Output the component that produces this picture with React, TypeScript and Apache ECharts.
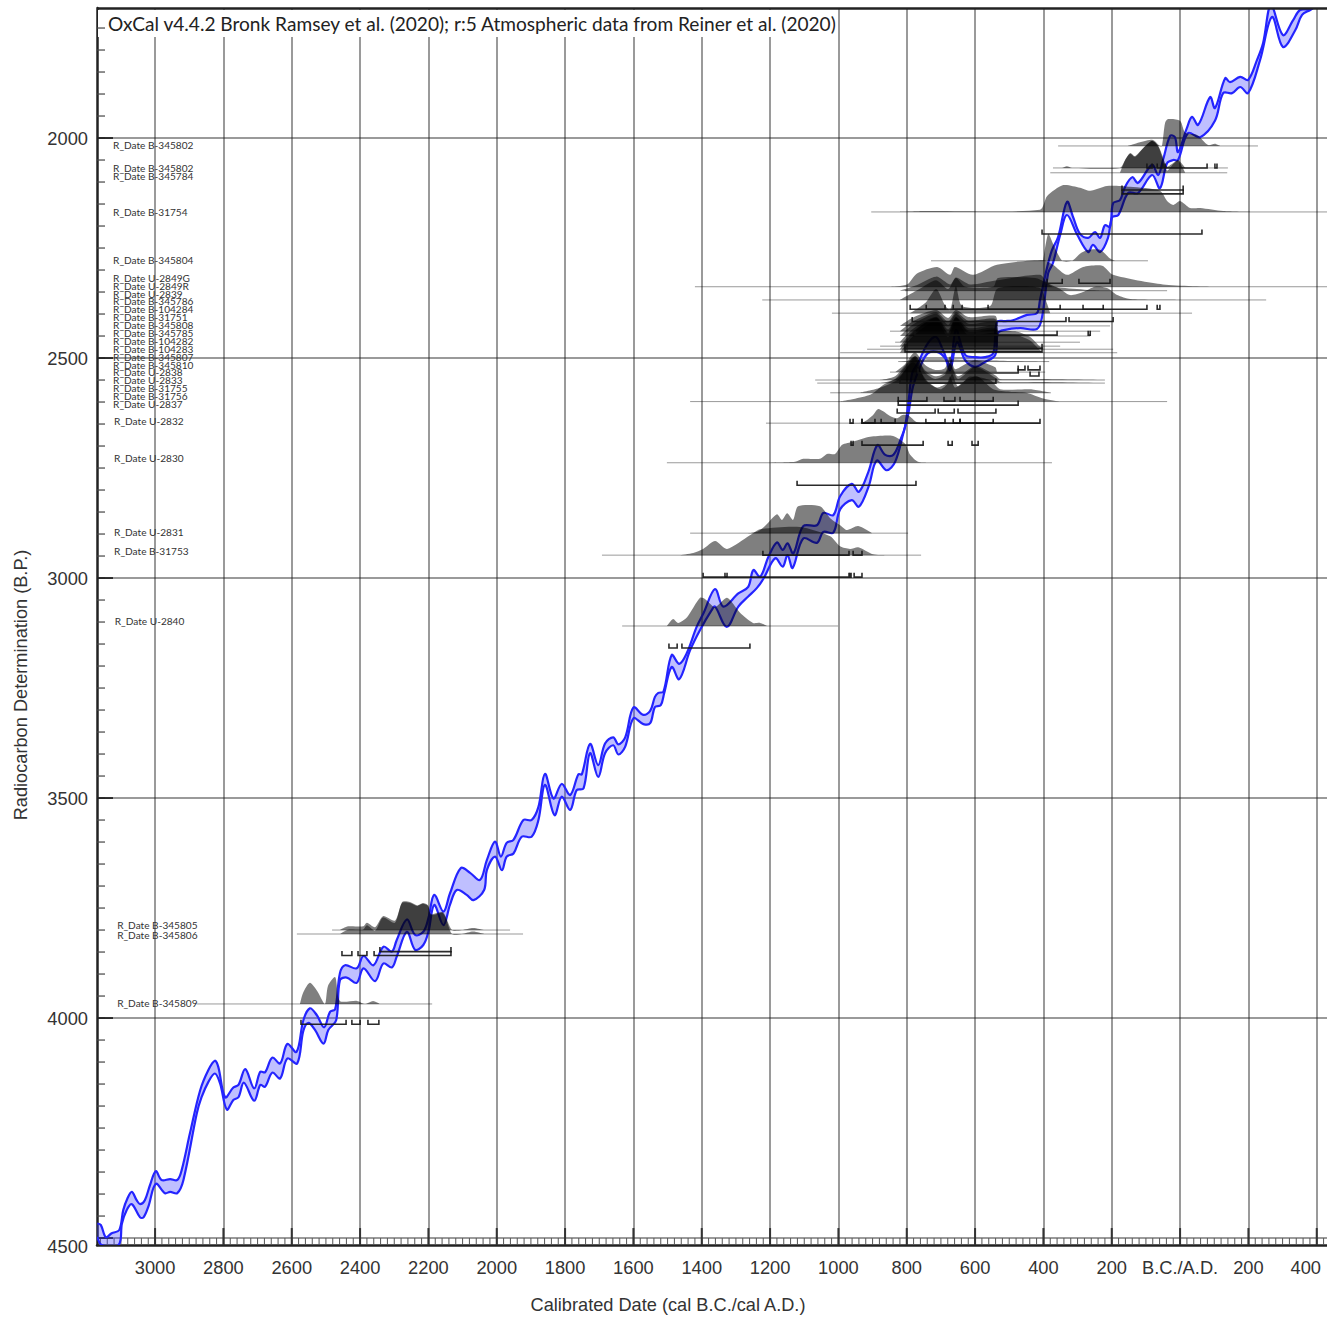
import React, { useEffect, useRef } from "react";
import * as echarts from "echarts";

const X_TICKS = [-3000, -2800, -2600, -2400, -2200, -2000, -1800, -1600, -1400, -1200, -1000, -800, -600, -400, -200, 0, 200, 400];
const Y_TICKS = [2000, 2500, 3000, 3500, 4000, 4500];
const TITLE = "OxCal v4.4.2 Bronk Ramsey et al. (2020); r:5 Atmospheric data from Reiner et al. (2020)";
const X_NAME = "Calibrated Date (cal B.C./cal A.D.)";
const Y_NAME = "Radiocarbon Determination (B.P.)";

// Calibration curve: [cal year (negative = B.C.), radiocarbon age B.P.]
const curveTop: number[][] = [
  [-3169,4467],[-3159,4470],[-3144,4498],[-3127,4489],[-3105,4482],[-3093,4436],[-3081,4410],[-3068,4395],[-3054,4414],[-3044,4423],[-3030,4414],[-3015,4380],[-2998,4348],[-2981,4368],[-2956,4366],[-2935,4368],[-2922,4345],[-2898,4262],[-2868,4164],[-2844,4118],[-2825,4097],[-2815,4111],[-2795,4180],[-2771,4158],[-2756,4152],[-2736,4116],[-2710,4160],[-2692,4122],[-2678,4123],[-2657,4090],[-2634,4103],[-2613,4059],[-2586,4077],[-2566,4005],[-2547,3978],[-2527,3993],[-2505,4021],[-2488,3986],[-2473,3980],[-2459,3898],[-2444,3880],[-2410,3887],[-2390,3859],[-2361,3880],[-2332,3838],[-2307,3849],[-2293,3823],[-2263,3776],[-2239,3811],[-2215,3804],[-2200,3773],[-2183,3720],[-2156,3758],[-2137,3717],[-2105,3659],[-2078,3670],[-2049,3686],[-2029,3641],[-2005,3599],[-1988,3633],[-1971,3602],[-1951,3595],[-1922,3550],[-1898,3550],[-1878,3520],[-1859,3445],[-1834,3501],[-1810,3468],[-1785,3493],[-1761,3446],[-1751,3446],[-1727,3377],[-1703,3425],[-1683,3376],[-1659,3362],[-1644,3378],[-1624,3362],[-1600,3294],[-1571,3311],[-1551,3302],[-1537,3270],[-1527,3261],[-1512,3258],[-1488,3175],[-1466,3195],[-1444,3171],[-1415,3111],[-1395,3080],[-1361,3025],[-1337,3065],[-1293,3035],[-1264,3020],[-1249,2982],[-1229,2997],[-1205,2952],[-1180,2919],[-1163,2936],[-1149,2921],[-1132,2944],[-1103,2882],[-1063,2880],[-1044,2852],[-1015,2857],[-995,2814],[-961,2786],[-940,2804],[-912,2758],[-886,2698],[-863,2720],[-839,2720],[-815,2679],[-805,2656],[-795,2600],[-784,2534],[-767,2511],[-738,2466],[-714,2452],[-694,2482],[-673,2516],[-656,2436],[-629,2493],[-600,2498],[-571,2498],[-547,2489],[-536,2418],[-512,2416],[-489,2414],[-448,2402],[-419,2398],[-410,2368],[-389,2293],[-375,2255],[-357,2225],[-331,2145],[-313,2180],[-293,2218],[-269,2227],[-249,2214],[-234,2227],[-220,2198],[-205,2202],[-196,2148],[-176,2141],[-161,2111],[-140,2089],[-123,2102],[-82,2061],[-64,2084],[-50,2050],[-29,1995],[-15,1998],[-6,2032],[20,1977],[35,1952],[53,1970],[88,1907],[102,1932],[132,1864],[146,1873],[176,1861],[199,1868],[225,1823],[243,1784],[266,1698],[301,1766],[331,1732],[351,1709],[381,1707],[439,1675],
];
const curveBottom: number[][] = [
  [-3169,4497],[-3156,4516],[-3107,4516],[-3097,4467],[-3083,4436],[-3068,4423],[-3044,4453],[-3034,4453],[-3020,4429],[-2998,4377],[-2971,4398],[-2956,4395],[-2935,4398],[-2917,4368],[-2878,4217],[-2864,4180],[-2844,4145],[-2825,4126],[-2810,4148],[-2790,4208],[-2771,4186],[-2756,4180],[-2740,4147],[-2710,4188],[-2692,4152],[-2678,4156],[-2657,4124],[-2634,4137],[-2613,4092],[-2584,4103],[-2566,4029],[-2551,4011],[-2532,4027],[-2507,4058],[-2493,4027],[-2470,4005],[-2459,3914],[-2439,3908],[-2410,3920],[-2390,3887],[-2356,3916],[-2332,3876],[-2307,3885],[-2293,3861],[-2263,3804],[-2239,3845],[-2215,3834],[-2200,3804],[-2183,3743],[-2156,3789],[-2137,3743],[-2117,3709],[-2088,3720],[-2068,3732],[-2037,3709],[-2029,3664],[-2005,3633],[-1985,3664],[-1971,3633],[-1951,3626],[-1927,3588],[-1898,3588],[-1878,3550],[-1859,3470],[-1831,3539],[-1810,3497],[-1785,3527],[-1766,3482],[-1746,3478],[-1727,3398],[-1703,3452],[-1683,3398],[-1659,3380],[-1644,3401],[-1624,3383],[-1600,3319],[-1571,3332],[-1551,3330],[-1537,3293],[-1520,3289],[-1510,3262],[-1488,3202],[-1466,3230],[-1434,3164],[-1405,3118],[-1371,3073],[-1361,3065],[-1327,3111],[-1293,3065],[-1264,3042],[-1239,3023],[-1219,3001],[-1185,2955],[-1163,2974],[-1149,2948],[-1134,2977],[-1103,2910],[-1063,2920],[-1044,2895],[-1015,2897],[-995,2844],[-961,2823],[-940,2838],[-912,2793],[-888,2733],[-859,2755],[-834,2736],[-810,2671],[-795,2625],[-782,2566],[-761,2520],[-738,2489],[-711,2486],[-688,2500],[-673,2527],[-653,2464],[-629,2505],[-600,2520],[-571,2509],[-541,2493],[-533,2443],[-512,2436],[-468,2432],[-419,2434],[-404,2407],[-386,2307],[-372,2284],[-351,2220],[-331,2175],[-301,2220],[-269,2259],[-255,2243],[-234,2259],[-211,2227],[-199,2180],[-181,2175],[-152,2125],[-123,2125],[-82,2084],[-59,2114],[-38,2057],[-20,2050],[-6,2050],[23,1989],[59,1998],[102,1961],[126,1898],[152,1898],[176,1884],[199,1898],[234,1823],[269,1725],[301,1793],[337,1755],[357,1720],[381,1709],[439,1680],
];

// Shared probability shapes: [cal year, height in radiocarbon years]
const shapeLeft = [[-820,0],[-784,18],[-714,36],[-679,18],[-656,36],[-620,20],[-541,23],[-533,0]];
const shapeFull = [[-820,0],[-784,18],[-714,36],[-679,18],[-656,36],[-620,20],[-541,23],[-533,21],[-477,20],[-439,14],[-410,3],[-401,0]];
const shapePeaks = [[-834,0],[-805,18],[-776,45],[-746,16],[-717,5],[-688,9],[-673,36],[-659,7],[-629,18],[-600,27],[-541,11],[-536,0]];
const shapePeaksWide = [[-878,0],[-834,7],[-776,45],[-746,18],[-717,7],[-688,14],[-673,32],[-650,7],[-600,27],[-541,9],[-527,2],[-410,2],[-220,0]];
const shapeLate = [[-2459,0],[-2435,9],[-2391,9],[-2380,18],[-2356,7],[-2333,34],[-2298,23],[-2277,66],[-2254,66],[-2233,59],[-2216,64],[-2201,59],[-2192,39],[-2157,43],[-2131,0],[-2102,0],[-2069,5],[-2037,0]];

const dateNames = ["R_Date B-345802","R_Date B-345802","R_Date B-345784","R_Date B-31754","R_Date B-345804","R_Date U-2849G","R_Date U-2849R","R_Date U-2839","R_Date B-345786","R_Date B-104284","R_Date B-31751","R_Date B-345808","R_Date B-345785","R_Date B-104282","R_Date B-104283","R_Date B-345807","R_Date B-345810","R_Date U-2838","R_Date U-2833","R_Date B-31755","R_Date B-31756","R_Date U-2837","R_Date U-2832","R_Date U-2830","R_Date U-2831","R_Date B-31753","R_Date U-2840","R_Date B-345805","R_Date B-345806","R_Date B-345809"];
const labelAges = [2016,2068,2086,2168,2277,2318,2336,2355,2370,2389,2407,2425,2443,2461,2480,2498,2516,2532,2550,2568,2586,2605,2643,2727,2895,2939,3098,3789,3811,3966];
const labelYears = [-3123,-3123,-3123,-3123,-3123,-3123,-3123,-3123,-3123,-3123,-3123,-3123,-3123,-3123,-3123,-3123,-3123,-3123,-3123,-3123,-3123,-3123,-3120,-3120,-3120,-3120,-3118,-3111,-3111,-3111];
const baseAges = [2018,2068,2079,2168,2279,2338,2347,2368,2398,2427,2439,2450,2464,2473,2480,2488,2508,2532,2550,2557,2579,2599,2648,2738,2898,2948,3109,3800,3809,3968];
const lineStarts = [-357,-372,-380,-904,-729,-1420,-805,-1223,-1019,-805,-849,-805,-834,-878,-916,-995,-825,-849,-1068,-1062,-1024,-1434,-1212,-1502,-1434,-1692,-1633,-2482,-2585,-2877];
const lineEnds = [228,140,138,430,-94,430,-38,252,35,-205,-234,-263,-293,-351,-196,-184,-383,-395,-220,-220,-378,-38,-410,-375,-796,-758,-1001,-1961,-1923,-2189];
const profiles: number[][][] = [
  [[-152,0],[-82,14],[-59,0],[-53,0],[-44,52],[-35,61],[0,57],[15,30],[50,25],[82,2],[102,5],[117,0]],
  [[-345,0],[-331,4],[-316,0],[-176,0],[-161,18],[-146,34],[-132,27],[-108,45],[-82,61],[-64,50],[-50,25],[-38,3],[-20,11],[-6,18],[15,0]],
  [[-176,0],[-161,28],[-146,43],[-132,36],[-108,56],[-82,73],[-64,60],[-50,30],[-38,5],[-20,20],[-6,28],[15,0]],
  [[-820,0],[-746,2],[-410,5],[-389,36],[-342,61],[-293,55],[-263,48],[-214,59],[-146,57],[-59,48],[-38,25],[-20,16],[0,25],[29,9],[59,9],[126,2],[205,0]],
  [[-401,0],[-386,61],[-372,39],[-345,0],[-316,0],[-293,16],[-269,25],[-234,25],[-205,5],[-190,0]],
  [[-849,0],[-799,5],[-770,30],[-711,45],[-673,27],[-659,45],[-606,27],[-536,50],[-401,61],[-372,50],[-331,27],[-284,45],[-228,48],[-196,27],[-50,5],[97,0]],
  [[-820,0],[-776,11],[-714,32],[-673,14],[-656,30],[-614,14],[-541,23],[-410,36],[-389,18],[-372,9],[-234,0]],
  [[-820,0],[-767,23],[-714,45],[-679,25],[-656,50],[-629,30],[-547,30],[-533,50],[-424,50],[-395,41],[-351,25],[-322,11],[-284,18],[-249,30],[-214,27],[-184,11],[-146,2],[0,0]],
  [[-790,0],[-746,23],[-714,55],[-688,18],[-673,7],[-656,61],[-638,16],[-556,16],[-536,55],[-477,61],[-410,57],[-395,34],[-380,0]],
  shapeLeft, shapeLeft, shapeLeft, shapeLeft, shapeLeft, shapeFull, shapeFull,
  [[-825,0],[-790,2],[-732,5],[-527,2],[-383,0]],
  shapePeaks, shapePeaksWide, shapePeaksWide,
  [[-937,0],[-878,7],[-828,18],[-805,32],[-776,50],[-746,18],[-702,5],[-679,14],[-667,27],[-650,9],[-615,23],[-556,18],[-527,5],[-439,5],[-378,0]],
  [[-995,0],[-907,11],[-869,27],[-825,39],[-781,64],[-741,34],[-711,23],[-682,30],[-673,41],[-659,23],[-629,34],[-594,41],[-547,20],[-498,16],[-448,14],[-401,5],[-351,0]],
  [[-960,0],[-928,2],[-899,18],[-884,32],[-869,27],[-849,16],[-828,11],[-814,18],[-796,18],[-770,2],[-741,0]],
  [[-1200,0],[-1127,2],[-1103,9],[-1054,9],[-1033,20],[-1010,20],[-989,41],[-957,48],[-907,59],[-840,61],[-805,43],[-790,18],[-767,2],[-741,0]],
  [[-1264,0],[-1238,3],[-1215,16],[-1180,43],[-1165,30],[-1150,45],[-1133,30],[-1118,61],[-1054,61],[-1024,34],[-995,18],[-975,7],[-942,16],[-902,0]],
  [[-1464,0],[-1425,5],[-1396,14],[-1361,32],[-1326,14],[-1259,45],[-1229,59],[-1112,64],[-1024,43],[-995,20],[-966,14],[-942,18],[-899,2],[-863,0]],
  [[-1502,0],[-1484,16],[-1469,7],[-1443,20],[-1405,64],[-1390,61],[-1361,43],[-1326,64],[-1288,30],[-1250,7],[-1229,7],[-1209,0]],
  shapeLate, shapeLate,
  [[-2576,0],[-2567,25],[-2547,48],[-2526,30],[-2503,0],[-2494,41],[-2473,61],[-2459,7],[-2409,7],[-2385,0],[-2362,7],[-2342,0]],
];
const profileScales = [1,1,1,1,1,1,1,1,1,1,1.2,1.4,1.6,1.8,2,2,1,1,1.2,1.35,1.6,1.4,1,1,1,1,1,0.93,1.1,1];

// Highest-probability ranges: [from year, to year, age on which the bracket sits]
const rangeBrackets: number[][] = [
  [-97,-82,2068],[-67,-50,2068],[-44,79,2068],[102,108,2068],
  [-170,9,2118],[-170,9,2127],[-404,64,2218],
  [-389,-345,2330],[-296,-205,2330],
  [-790,-97,2389],[-743,-688,2389],[-664,-638,2389],[-562,-351,2389],[-284,-225,2389],[-67,-59,2389],
  [-784,-334,2417],[-325,-196,2417],[-776,-360,2448],[-269,-263,2448],[-805,-404,2486],[-805,-404,2478],
  [-767,-474,2534],[-474,-454,2527],[-445,-410,2527],[-439,-413,2541],[-820,-539,2557],
  [-825,-741,2598],[-691,-659,2598],[-644,-547,2598],[-825,-474,2607],
  [-828,-717,2625],[-708,-661,2625],[-650,-539,2625],
  [-931,-410,2648],[-966,-957,2648],[-931,-893,2648],[-875,-834,2648],[-744,-688,2648],[-664,-644,2648],[-644,-547,2648],
  [-931,-752,2698],[-679,-667,2698],[-609,-591,2698],[-963,-957,2698],
  [-1121,-773,2789],[-1221,-969,2948],[-957,-931,2948],
  [-1396,-969,2998],[-1332,-1326,2998],[-966,-963,2998],[-954,-931,2998],
  [-1496,-1472,3159],[-1458,-1259,3159],
  [-2453,-2424,3858],[-2406,-2380,3858],[-2359,-2134,3858],[-2342,-2134,3849],
  [-2573,-2441,4014],[-2424,-2400,4014],[-2377,-2345,4014],
];

const minorYears: number[] = [];
for (let y = -3160; y <= 420; y += 20) minorYears.push(y);
const minorAges: number[] = [];
for (let a = 1750; a <= 4500; a += 50) minorAges.push(a);

const BLUE = "#2424ff";
const FONT = "'Liberation Sans', Arial, sans-serif";

function singleItem(renderItem: any, z: number, clip = true) {
  return { type: "custom", coordinateSystem: "cartesian2d", clip, z, silent: true, data: [[0, 3000]], renderItem };
}

function App() {
  const ref = useRef<HTMLDivElement>(null);
  useEffect(() => {
    const chart = echarts.init(ref.current!, undefined, { renderer: "svg" });
    const axisLabelBase = { color: "#333", fontFamily: FONT, fontSize: 18.3 };
    const option: any = {
      animation: false,
      backgroundColor: "#fff",
      grid: { left: 97, top: 8, width: 1230, height: 1237, containLabel: false },
      xAxis: {
        type: "value", min: -3170, max: 430, position: "bottom",
        axisLine: { onZero: false, lineStyle: { color: "#222", width: 2.5 } },
        axisTick: { show: false, customValues: X_TICKS },
        axisLabel: {
          ...axisLabelBase, margin: 13, customValues: X_TICKS, showMinLabel: true, showMaxLabel: true, hideOverlap: false,
          formatter: (v: number) => v === 0 ? "B.C./A.D." : v === 400 ? `{s|${v}}` : String(Math.abs(v)),
          rich: { s: { ...axisLabelBase, padding: [0, 22, 0, 0] } },
        },
        splitLine: { show: true, lineStyle: { color: "rgba(30,30,30,0.6)", width: 1.5 } },
      },
      yAxis: {
        type: "value", inverse: true, min: 1704.5, max: 4515.8,
        axisLine: { onZero: false, lineStyle: { color: "#222", width: 2.5 } },
        axisTick: { show: false, customValues: Y_TICKS },
        axisLabel: {
          ...axisLabelBase, margin: 9, customValues: Y_TICKS, showMinLabel: true, showMaxLabel: true, hideOverlap: false,
          formatter: (v: number) => v === 4500 ? `{s|${v}}` : String(v),
          rich: { s: { ...axisLabelBase, padding: [16, 0, 0, 0] } },
        },
        splitLine: { show: true, lineStyle: { color: "rgba(30,30,30,0.6)", width: 1.5 } },
      },
      graphic: [
        { type: "rect", z: 1, shape: { x: 98, y: 10, width: 740, height: 27 }, style: { fill: "#fff" } },
        { type: "line", z: 5, shape: { x1: 97, y1: 8.5, x2: 1327, y2: 8.5 }, style: { stroke: "#222", lineWidth: 2.5 } },
        { type: "text", z: 10, x: 108, y: 23, style: { text: TITLE, fill: "#222", font: "19.1px Lato", textAlign: "left", textVerticalAlign: "middle" } },
        { type: "text", z: 10, x: 668, y: 1305, style: { text: X_NAME, fill: "#333", font: `18.2px ${FONT}`, textAlign: "center", textVerticalAlign: "middle" } },
        { type: "text", z: 10, x: 21, y: 685, rotation: Math.PI / 2, style: { text: Y_NAME, fill: "#333", font: `18.2px ${FONT}`, textAlign: "center", textVerticalAlign: "middle" } },
      ],
      series: [
        // axis tick marks
        singleItem((params: any, api: any) => {
          const children: any[] = [];
          const [, yTop] = api.coord([0, 4500]);
          const [, yBot] = api.coord([0, 4515.8]);
          minorYears.forEach((v) => {
            const [x] = api.coord([v, 4500]);
            children.push({ type: "line", shape: { x1: x, y1: yTop, x2: x, y2: yBot }, style: { stroke: "#555", lineWidth: 1 } });
          });
          X_TICKS.forEach((v) => {
            const [x] = api.coord([v, 4500]);
            children.push({ type: "line", shape: { x1: x, y1: yTop - 10, x2: x, y2: yBot }, style: { stroke: "#333", lineWidth: 2 } });
          });
          const [xLeft] = api.coord([-3170, 4500]);
          minorAges.forEach((a) => {
            const y = api.coord([0, a])[1];
            children.push({ type: "line", shape: { x1: xLeft, y1: y, x2: xLeft + 8, y2: y }, style: { stroke: "#444", lineWidth: 1.2 } });
          });
          Y_TICKS.forEach((a) => {
            const y = api.coord([0, a])[1];
            children.push({ type: "line", shape: { x1: xLeft, y1: y, x2: xLeft + 16, y2: y }, style: { stroke: "#222", lineWidth: 1.8 } });
          });
          return { type: "group", children };
        }, 3, false),
        // calibration curve, drawn beneath the translucent probability fills
        singleItem((params: any, api: any) => {
          const top = curveTop.map((p) => api.coord(p));
          const bot = curveBottom.map((p) => api.coord(p));
          const smooth = 0.35;
          return {
            type: "group",
            children: [
              { type: "polygon", shape: { points: top.concat(bot.slice().reverse()), smooth }, style: { fill: "rgba(60,60,255,0.33)" } },
              { type: "polyline", shape: { points: top, smooth }, style: { fill: "none", stroke: BLUE, lineWidth: 2.2 } },
              { type: "polyline", shape: { points: bot, smooth }, style: { fill: "none", stroke: BLUE, lineWidth: 2.2 } },
            ],
          };
        }, 4),
        // baselines, probability fills, labels
        singleItem((params: any, api: any) => {
          const children: any[] = [];
          dateNames.forEach((name, i) => {
            const base = baseAges[i];
            const [x1, y] = api.coord([lineStarts[i], base]);
            const [x2] = api.coord([lineEnds[i], base]);
            children.push({ type: "line", shape: { x1, y1: y, x2, y2: y }, style: { stroke: "rgba(0,0,0,0.4)", lineWidth: 1 } });
            const pts = profiles[i].map(([yr, h]) => api.coord([yr, base - h * profileScales[i]]));
            children.push({ type: "polyline", shape: { points: pts, smooth: 0.25 }, style: { fill: "rgba(0,0,0,0.5)", stroke: "none" } });
            const lp = api.coord([labelYears[i], labelAges[i]]);
            children.push({ type: "text", x: lp[0], y: lp[1], style: { text: name, fill: "#333", font: "10.1px Lato", textAlign: "left", textVerticalAlign: "middle" } });
          });
          return { type: "group", children };
        }, 5),
        // range brackets
        singleItem((params: any, api: any) => {
          const children: any[] = [];
          rangeBrackets.forEach(([a, b, age]) => {
            const [x1, y] = api.coord([a, age]);
            const [x2] = api.coord([b, age]);
            children.push({ type: "polyline", shape: { points: [[x1, y - 4.5], [x1, y], [x2, y], [x2, y - 4.5]] }, style: { fill: "none", stroke: "rgba(20,20,20,0.9)", lineWidth: 1.6 } });
          });
          return { type: "group", children };
        }, 6),
      ],
    };
    chart.setOption(option);
    return () => chart.dispose();
  }, []);
  return <div ref={ref} style={{ position: "absolute", left: 0, top: 0, width: 1327, height: 1317 }} />;
}

export default App;
